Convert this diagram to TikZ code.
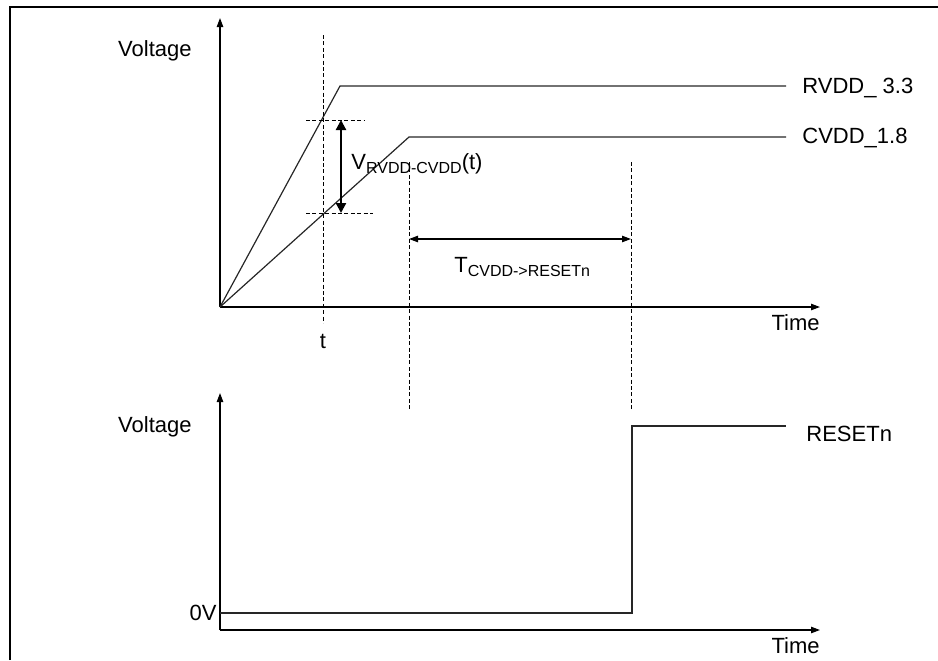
\documentclass[tikz,border=0pt]{standalone}
\usepackage{fontspec}
\setmainfont{Liberation Sans}
\usetikzlibrary{arrows.meta}
\newcommand{\lowsub}[1]{\raisebox{-2.2pt}{\fontsize{8}{9}\selectfont #1}}
\tikzset{
  axis/.style={-{Triangle[length=4.5pt,width=3.2pt]}, line width=0.6pt},
  sig/.style={line width=0.6pt, draw=black!85},
  guide/.style={dash pattern=on 2pt off 1.2pt, line width=0.5pt},
  span/.style={{Triangle[length=4.5pt,width=3.2pt]}-{Triangle[length=4.5pt,width=3.2pt]}, line width=0.55pt},
  delta/.style={{Triangle[length=5pt,width=5pt]}-{Triangle[length=5pt,width=5pt]}, line width=1.1pt},
  lab/.style={font=\fontsize{11}{13}\selectfont, inner sep=0pt},
  frame/.style={line width=1pt},
}

\begin{document}
\begin{tikzpicture}[x=0.5pt, y=-0.5pt]
  \useasboundingbox (0,0) rectangle (938,660);
  % frame
  \coordinate (fbl) at (10,660);
  \coordinate (ftl) at (10,7);
  \coordinate (ftr) at (938,7);
  \draw[frame] (fbl) -- (ftl) -- (ftr);

  % upper chart: supplies
  \coordinate (o1) at (220,307);
  \coordinate (ytop1) at (220,18);
  \coordinate (xend1) at (820,307);
  \draw[axis] (o1) -- (ytop1);
  \draw[axis] (o1) -- (xend1);
  \node[lab, anchor=base east] (volt1) at (192,56) {Voltage};
  \node[lab, anchor=base east] (time1) at (820,330) {Time};

  \coordinate (rk) at (340,86);
  \coordinate (rend) at (786,86);
  \coordinate (ck) at (409,137);
  \coordinate (cend) at (786,137);
  \draw[sig] (o1) -- (rk) -- (rend);
  \draw[sig] (o1) -- (ck) -- (cend);
  \node[lab, anchor=base west] (rvdd) at (802,93) {RVDD\_ 3.3};
  \node[lab, anchor=base west] (cvdd) at (802,143) {CVDD\_1.8};

  % time t and the voltage gap
  \coordinate (ttop) at (323,35);
  \coordinate (tbot) at (323,323);
  \draw[guide] (ttop) -- (tbot);
  \node[lab, anchor=base] (tlab) at (323,348) {t};
  \coordinate (hia) at (306,120);
  \coordinate (hib) at (365,120);
  \coordinate (loa) at (306,213);
  \coordinate (lob) at (373,213);
  \draw[guide] (hia) -- (hib);
  \draw[guide] (loa) -- (lob);
  \coordinate (gtop) at (341,120);
  \coordinate (gbot) at (341,213);
  \draw[delta] (gtop) -- (gbot);
  \node[lab, anchor=base west] (vgap) at (351,169) {V\lowsub{RVDD-CVDD}(t)};

  % delay CVDD -> RESETn
  \coordinate (d1top) at (409,162);
  \coordinate (d1bot) at (409,410);
  \coordinate (d2top) at (631,162);
  \coordinate (d2bot) at (631,410);
  \draw[guide] (d1top) -- (d1bot);
  \draw[guide] (d2top) -- (d2bot);
  \coordinate (sa) at (409,239);
  \coordinate (sb) at (631,239);
  \draw[span] (sa) -- (sb);
  \node[lab, anchor=base west] (tdel) at (454,272) {T\lowsub{CVDD->RESETn}};

  % lower chart: reset
  \coordinate (o2) at (220,630);
  \coordinate (ytop2) at (220,393);
  \coordinate (xend2) at (820,630);
  \draw[axis] (o2) -- (ytop2);
  \draw[axis] (o2) -- (xend2);
  \node[lab, anchor=base east] (volt2) at (192,432) {Voltage};
  \node[lab, anchor=base east] (time2) at (820,653) {Time};
  \node[lab, anchor=base east] (zero) at (217,620) {0V};

  \coordinate (r0) at (220,613);
  \coordinate (rup) at (632,613);
  \coordinate (rtop) at (632,426);
  \coordinate (rhi) at (786,426);
  \draw[sig] (r0) -- (rup) -- (rtop) -- (rhi);
  \node[lab, anchor=base west] (rst) at (806,441) {RESETn};
\end{tikzpicture}
\end{document}
